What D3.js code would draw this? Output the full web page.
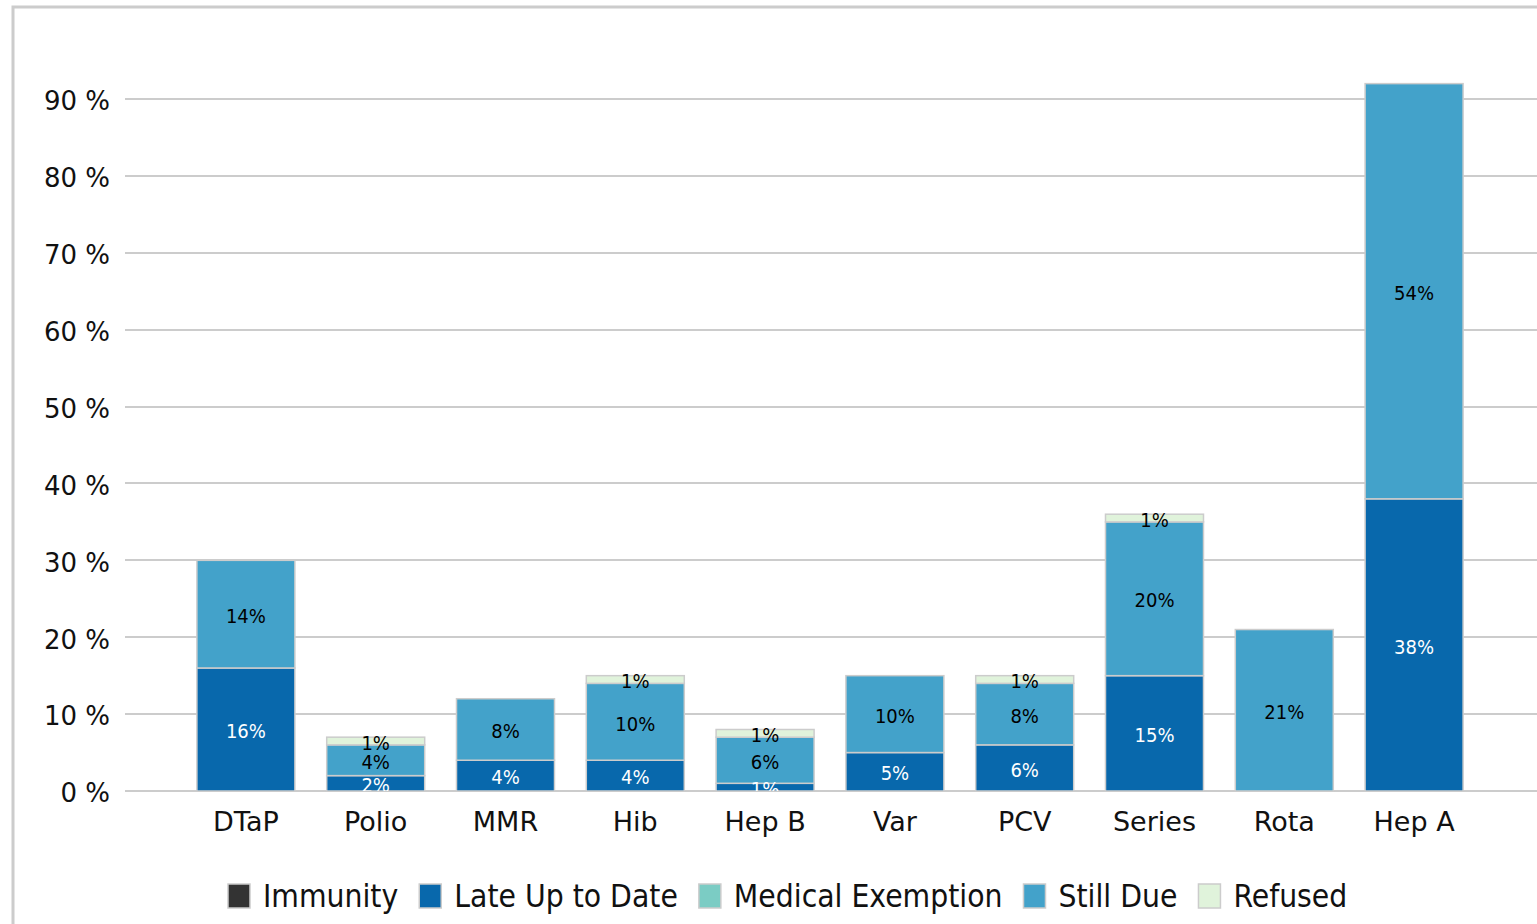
<!DOCTYPE html>
<html>
<head>
<meta charset="utf-8">
<script src="https://cdn.jsdelivr.net/npm/d3@7"></script>
<style>
  body { margin: 0; background: #fff; }
  text { font-family: "DejaVu Sans", sans-serif; }
</style>
</head>
<body>
<div id="chart"></div>
<script>
// vaccine categories and stacked series (percent)
var categories = ["DTaP", "Polio", "MMR", "Hib", "Hep B", "Var", "PCV", "Series", "Rota", "Hep A"];
var seriesNames = ["Immunity", "Late Up to Date", "Medical Exemption", "Still Due", "Refused"];
var immunity   = [0, 0, 0, 0, 0, 0, 0, 0, 0, 0];
var lateUpToDate = [16, 2, 4, 4, 1, 5, 6, 15, 0, 38];
var medicalExemption = [0, 0, 0, 0, 0, 0, 0, 0, 0, 0];
var stillDue   = [14, 4, 8, 10, 6, 10, 8, 20, 21, 54];
var refused    = [0, 1, 0, 1, 1, 0, 1, 1, 0, 0];
var yTicks = [0, 10, 20, 30, 40, 50, 60, 70, 80, 90];

var colors = ["#333333", "#0868ac", "#7bccc4", "#43a2ca", "#e0f3db"];
var labelColors = ["#fff", "#fff", "#000", "#000", "#000"];

var W = 1537, H = 924;
var svg = d3.select("#chart").append("svg")
  .attr("width", W)
  .attr("height", H);

// outer frame
svg.append("rect")
  .attr("x", 13).attr("y", 7)
  .attr("width", W).attr("height", H)
  .attr("fill", "none")
  .attr("stroke", "#cccccc")
  .attr("stroke-width", 3);

var rows = categories.map(function(c, i) {
  return {
    cat: c,
    "Immunity": immunity[i],
    "Late Up to Date": lateUpToDate[i],
    "Medical Exemption": medicalExemption[i],
    "Still Due": stillDue[i],
    "Refused": refused[i]
  };
});

var stack = d3.stack().keys(seriesNames);
var layers = stack(rows);

var y = d3.scaleLinear().domain([0, 90]).range([791, 99]);
var x = d3.scaleBand().domain(categories).range([181, 1479]).paddingInner(0.245).paddingOuter(0.1225);

// gridlines
svg.append("g").selectAll("line")
  .data(yTicks)
  .enter().append("line")
  .attr("x1", 125).attr("x2", W)
  .attr("y1", function(d) { return Math.round(y(d)); })
  .attr("y2", function(d) { return Math.round(y(d)); })
  .attr("stroke", "#cccccc")
  .attr("stroke-width", 2);

// y tick labels
svg.append("g").selectAll("text")
  .data(yTicks)
  .enter().append("text")
  .attr("x", 110)
  .attr("y", function(d) { return y(d) + 2; })
  .attr("dy", "0.36em")
  .attr("text-anchor", "end")
  .attr("font-size", 26)
  .attr("fill", "#111")
  .text(function(d) { return d + " %"; });

svg.append("clipPath").attr("id", "plotclip")
  .append("rect").attr("x", 125).attr("y", 0).attr("width", W).attr("height", 791);

// bars
var layerG = svg.append("g").selectAll("g")
  .data(layers)
  .enter().append("g")
  .attr("fill", function(d, i) { return colors[i]; });

layerG.selectAll("rect")
  .data(function(d) { return d.filter(function(s) { return s[1] - s[0] > 0; }); })
  .enter().append("rect")
  .attr("x", function(d) { return x(d.data.cat); })
  .attr("y", function(d) { return y(d[1]); })
  .attr("width", x.bandwidth())
  .attr("height", function(d) { return y(d[0]) - y(d[1]); })
  .attr("stroke", "#cccccc")
  .attr("stroke-width", 1.5);

// segment labels
var labelG = svg.append("g").attr("clip-path", "url(#plotclip)");
layers.forEach(function(layer, li) {
  labelG.selectAll(null)
    .data(layer.filter(function(s) { return s[1] - s[0] > 0; }))
    .enter().append("text")
    .attr("x", function(d) { return x(d.data.cat) + x.bandwidth() / 2; })
    .attr("y", function(d) { return (y(d[0]) + y(d[1])) / 2 + 1.5; })
    .attr("dy", "0.36em")
    .attr("text-anchor", "middle")
    .attr("font-family", "DejaVu Sans Condensed")
    .attr("font-stretch", "condensed")
    .attr("font-size", 20)
    .attr("fill", labelColors[li])
    .text(function(d) { return (d[1] - d[0]) + "%"; });
});

// category labels
svg.append("g").selectAll("text")
  .data(categories)
  .enter().append("text")
  .attr("x", function(d) { return x(d) + x.bandwidth() / 2; })
  .attr("y", 831)
  .attr("text-anchor", "middle")
  .attr("font-size", 27)
  .attr("fill", "#111")
  .text(function(d) { return d; });

// legend
var legend = svg.append("g").attr("transform", "translate(0,896)");
var lx = 228;
seriesNames.forEach(function(name, i) {
  var g = legend.append("g").attr("transform", "translate(" + lx + ",0)");
  g.append("rect")
    .attr("x", 0).attr("y", -12)
    .attr("width", 22).attr("height", 24)
    .attr("fill", colors[i])
    .attr("stroke", "#cccccc")
    .attr("stroke-width", 1.5);
  var t = g.append("text")
    .attr("x", 35)
    .attr("dy", "0.36em")
    .attr("font-family", "DejaVu Sans Condensed")
    .attr("font-stretch", "condensed")
    .attr("font-size", 31.5)
    .attr("fill", "#111")
    .text(name);
  lx += 35 + t.node().getComputedTextLength() + 21;
});
</script>
</body>
</html>
